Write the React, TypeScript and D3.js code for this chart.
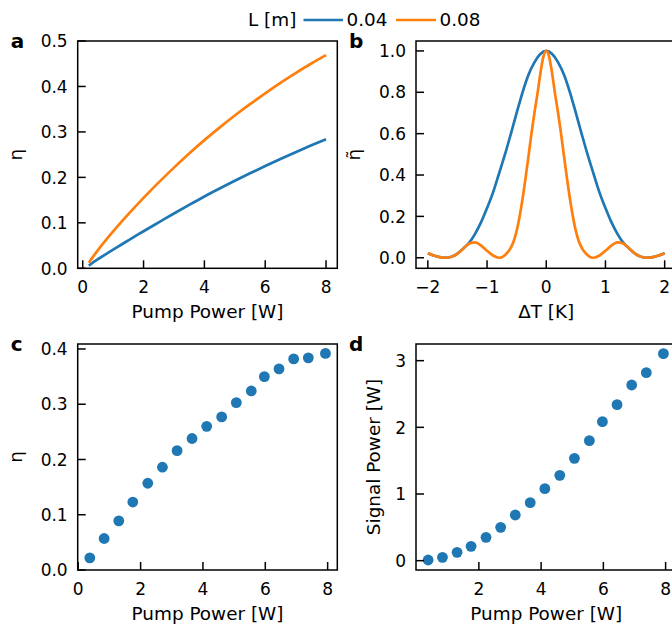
import React from 'react';
import * as d3 from 'd3';

// ---------- data ----------
// panel a: modelled conversion efficiency vs pump power
const pumpA = [0.2, 0.5, 1, 1.5, 2, 2.5, 3, 3.5, 4, 4.5, 5, 5.5, 6, 6.5, 7, 7.5, 8];
const etaA004 = [0.006, 0.02, 0.041, 0.0615, 0.0815, 0.101, 0.1205, 0.1395, 0.158, 0.1755, 0.1925, 0.209, 0.225, 0.2405, 0.2555, 0.27, 0.284];
const etaA008 = [0.012, 0.04, 0.081, 0.119, 0.155, 0.189, 0.2215, 0.2525, 0.282, 0.3095, 0.336, 0.361, 0.385, 0.408, 0.4295, 0.45, 0.469];

// panel b: normalised efficiency vs temperature detuning
const dT004 = [-2.0, -1.9, -1.8, -1.7, -1.6, -1.5, -1.4, -1.3, -1.2, -1.1, -1.0, -0.9, -0.8, -0.7, -0.6, -0.5, -0.4, -0.3, -0.2, -0.1, 0,
  0.1, 0.2, 0.3, 0.4, 0.5, 0.6, 0.7, 0.8, 0.9, 1.0, 1.1, 1.2, 1.3, 1.4, 1.5, 1.6, 1.7, 1.8, 1.9, 2.0];
const etaB004 = [0.022, 0.011, 0.003, 0.0, 0.005, 0.02, 0.045, 0.073, 0.117, 0.172, 0.24, 0.315, 0.405, 0.497, 0.597, 0.7, 0.8, 0.885, 0.945, 0.985, 1.0,
  0.985, 0.945, 0.885, 0.8, 0.7, 0.597, 0.497, 0.405, 0.315, 0.24, 0.172, 0.117, 0.073, 0.045, 0.02, 0.005, 0.0, 0.003, 0.011, 0.022];
const dT008 = [-2.0, -1.9, -1.8, -1.7, -1.6, -1.5, -1.4, -1.3, -1.2, -1.1, -1.0, -0.9, -0.8, -0.75, -0.7, -0.65, -0.6, -0.55, -0.5, -0.45, -0.4, -0.35, -0.3, -0.25, -0.2, -0.15, -0.1, -0.05, 0,
  0.05, 0.1, 0.15, 0.2, 0.25, 0.3, 0.35, 0.4, 0.45, 0.5, 0.55, 0.6, 0.65, 0.7, 0.75, 0.8, 0.9, 1.0, 1.1, 1.2, 1.3, 1.4, 1.5, 1.6, 1.7, 1.8, 1.9, 2.0];
const etaB008 = [0.022, 0.011, 0.003, 0.0, 0.005, 0.02, 0.045, 0.069, 0.074, 0.059, 0.034, 0.011, 0.0, 0.003, 0.012, 0.027, 0.048, 0.08, 0.13, 0.2, 0.285, 0.385, 0.49, 0.6, 0.7, 0.79, 0.89, 0.97, 1.0,
  0.97, 0.89, 0.79, 0.7, 0.6, 0.49, 0.385, 0.285, 0.2, 0.13, 0.08, 0.048, 0.027, 0.012, 0.003, 0.0, 0.011, 0.034, 0.059, 0.074, 0.069, 0.045, 0.02, 0.005, 0.0, 0.003, 0.011, 0.022];

// panels c & d: measurements
const pumpMeas = [0.37, 0.83, 1.3, 1.75, 2.23, 2.7, 3.17, 3.65, 4.12, 4.6, 5.07, 5.55, 5.97, 6.44, 6.91, 7.38, 7.93];
const etaMeas = [0.022, 0.057, 0.089, 0.123, 0.157, 0.186, 0.216, 0.238, 0.26, 0.277, 0.303, 0.324, 0.35, 0.364, 0.382, 0.384, 0.392];
const signalMeas = [0.01, 0.05, 0.125, 0.215, 0.35, 0.5, 0.685, 0.87, 1.08, 1.28, 1.535, 1.8, 2.085, 2.34, 2.635, 2.82, 3.105];

const legendTitle = 'L [m]';
const legendLabels = ['0.04', '0.08'];

const ticksPump = [0, 2, 4, 6, 8];
const ticksPumpD = [2, 4, 6, 8];
const ticksDT = [-2, -1, 0, 1, 2];
const ticksEtaA = [0, 0.1, 0.2, 0.3, 0.4, 0.5];
const ticksEtaB = [0, 0.2, 0.4, 0.6, 0.8, 1.0];
const ticksEtaC = [0, 0.1, 0.2, 0.3, 0.4];
const ticksSignal = [0, 1, 2, 3];

// ---------- style ----------
const W = 672;
const H = 631;
const BLUE = '#1f77b4';
const ORANGE = '#ff7f0e';
const FONT = 'DejaVu Sans, sans-serif';
const TICK_FS = 17;
const LABEL_FS = 18.4;

type Box = { l: number; r: number; t: number; b: number };

type PanelProps = {
  id: string;
  box: Box;
  xDomain: [number, number];
  yDomain: [number, number];
  xTicks: number[];
  yTicks: number[];
  xFmt: (v: number) => string;
  yFmt: (v: number) => string;
  xLabel: string;
  yLabel: string;
  yLabelOffset: number;
  letter: string;
  render: (x: d3.ScaleLinear<number, number>, y: d3.ScaleLinear<number, number>) => React.ReactNode;
};

function Panel(p: PanelProps) {
  const { box } = p;
  const x = d3.scaleLinear().domain(p.xDomain).range([box.l, box.r]);
  const y = d3.scaleLinear().domain(p.yDomain).range([box.b, box.t]);
  const tickLen = 8;
  return (
    <g>
      <defs>
        <clipPath id={`clip-${p.id}`}>
          <rect x={box.l} y={box.t} width={box.r - box.l} height={box.b - box.t} />
        </clipPath>
      </defs>
      <g clipPath={`url(#clip-${p.id})`}>{p.render(x, y)}</g>
      {p.xTicks.map((v) => (
        <g key={`xt${v}`}>
          <line x1={x(v)} x2={x(v)} y1={box.b} y2={box.b - tickLen} stroke="#000" strokeWidth={1.5} />
          <text x={x(v)} y={box.b + 24.7} textAnchor="middle" fontSize={TICK_FS} fontFamily={FONT}>
            {p.xFmt(v)}
          </text>
        </g>
      ))}
      {p.yTicks.map((v) => (
        <g key={`yt${v}`}>
          <line x1={box.l} x2={box.l + tickLen} y1={y(v)} y2={y(v)} stroke="#000" strokeWidth={1.5} />
          <text x={box.l - 10} y={y(v) + 6.2} textAnchor="end" fontSize={TICK_FS} fontFamily={FONT}>
            {p.yFmt(v)}
          </text>
        </g>
      ))}
      <rect x={box.l} y={box.t} width={box.r - box.l} height={box.b - box.t} fill="none" stroke="#000" strokeWidth={1.5} />
      <text x={(box.l + box.r) / 2} y={box.b + 49.7} textAnchor="middle" fontSize={LABEL_FS} fontFamily={FONT}>
        {p.xLabel}
      </text>
      <text
        transform={`translate(${box.l - p.yLabelOffset},${(box.t + box.b) / 2}) rotate(-90)`}
        textAnchor="middle"
        fontSize={LABEL_FS}
        fontFamily={FONT}
      >
        {p.yLabel}
      </text>
      <text x={box.l - 67} y={box.t + 7.3} fontSize={20} fontWeight="bold" fontFamily={FONT}>
        {p.letter}
      </text>
    </g>
  );
}

export default function App() {
  const boxA: Box = { l: 77.7, r: 337.3, t: 41, b: 268.3 };
  const boxB: Box = { l: 416, r: 676.5, t: 41, b: 268.3 };
  const boxC: Box = { l: 77.7, r: 337.3, t: 344, b: 570 };
  const boxD: Box = { l: 416, r: 676.5, t: 344, b: 570 };

  const f1 = d3.format('.1f');
  const fd = d3.format('d');

  const lineOf = (x: d3.ScaleLinear<number, number>, y: d3.ScaleLinear<number, number>, xs: number[], ys: number[], curve: d3.CurveFactory) =>
    d3
      .line<number>()
      .x((_, i) => x(xs[i]))
      .y((v) => y(v))
      .curve(curve)(ys) || '';

  const legY = 26;
  const legLineY = 20;

  return (
    <svg
      width={W}
      height={H}
      viewBox={`0 0 ${W} ${H}`}
      style={{ position: 'absolute', left: 0, top: 0, background: '#fff', overflow: 'hidden' }}
    >
      <rect x={0} y={0} width={W} height={H} fill="#fff" />
      <g fontFamily={FONT} fontSize={LABEL_FS}>
        <text x={248} y={legY}>{legendTitle}</text>
        <line x1={303.5} x2={343} y1={legLineY} y2={legLineY} stroke={BLUE} strokeWidth={2.7} />
        <text x={346.5} y={legY}>{legendLabels[0]}</text>
        <line x1={396} x2={436} y1={legLineY} y2={legLineY} stroke={ORANGE} strokeWidth={2.7} />
        <text x={439.5} y={legY}>{legendLabels[1]}</text>
      </g>

      <Panel
        id="a"
        box={boxA}
        xDomain={[-0.165, 8.37]}
        yDomain={[0, 0.5]}
        xTicks={ticksPump}
        yTicks={ticksEtaA}
        xFmt={fd}
        yFmt={f1}
        xLabel="Pump Power [W]"
        yLabel="η"
        yLabelOffset={55.7}
        letter="a"
        render={(x, y) => (
          <g fill="none" strokeWidth={2.7} strokeLinecap="butt">
            <path d={lineOf(x, y, pumpA, etaA004, d3.curveNatural)} stroke={BLUE} />
            <path d={lineOf(x, y, pumpA, etaA008, d3.curveNatural)} stroke={ORANGE} />
          </g>
        )}
      />

      <Panel
        id="b"
        box={boxB}
        xDomain={[-2.2, 2.2]}
        yDomain={[-0.051, 1.048]}
        xTicks={ticksDT}
        yTicks={ticksEtaB}
        xFmt={fd}
        yFmt={f1}
        xLabel="ΔT [K]"
        yLabel="η̃"
        yLabelOffset={55.7}
        letter="b"
        render={(x, y) => (
          <g fill="none" strokeWidth={2.7} strokeLinejoin="round">
            <path d={lineOf(x, y, dT004, etaB004, d3.curveMonotoneX)} stroke={BLUE} />
            <path d={lineOf(x, y, dT008, etaB008, d3.curveMonotoneX)} stroke={ORANGE} />
          </g>
        )}
      />

      <Panel
        id="c"
        box={boxC}
        xDomain={[-0.018, 8.31]}
        yDomain={[0, 0.409]}
        xTicks={ticksPump}
        yTicks={ticksEtaC}
        xFmt={fd}
        yFmt={f1}
        xLabel="Pump Power [W]"
        yLabel="η"
        yLabelOffset={55.7}
        letter="c"
        render={(x, y) => (
          <g>
            {pumpMeas.map((v, i) => (
              <circle key={i} cx={x(v)} cy={y(etaMeas[i])} r={5.4} fill={BLUE} />
            ))}
          </g>
        )}
      />

      <Panel
        id="d"
        box={boxD}
        xDomain={[-0.02, 8.35]}
        yDomain={[-0.14, 3.25]}
        xTicks={ticksPumpD}
        yTicks={ticksSignal}
        xFmt={fd}
        yFmt={fd}
        xLabel="Pump Power [W]"
        yLabel="Signal Power [W]"
        yLabelOffset={36}
        letter="d"
        render={(x, y) => (
          <g>
            {pumpMeas.map((v, i) => (
              <circle key={i} cx={x(v)} cy={y(signalMeas[i])} r={5.4} fill={BLUE} />
            ))}
          </g>
        )}
      />
    </svg>
  );
}
